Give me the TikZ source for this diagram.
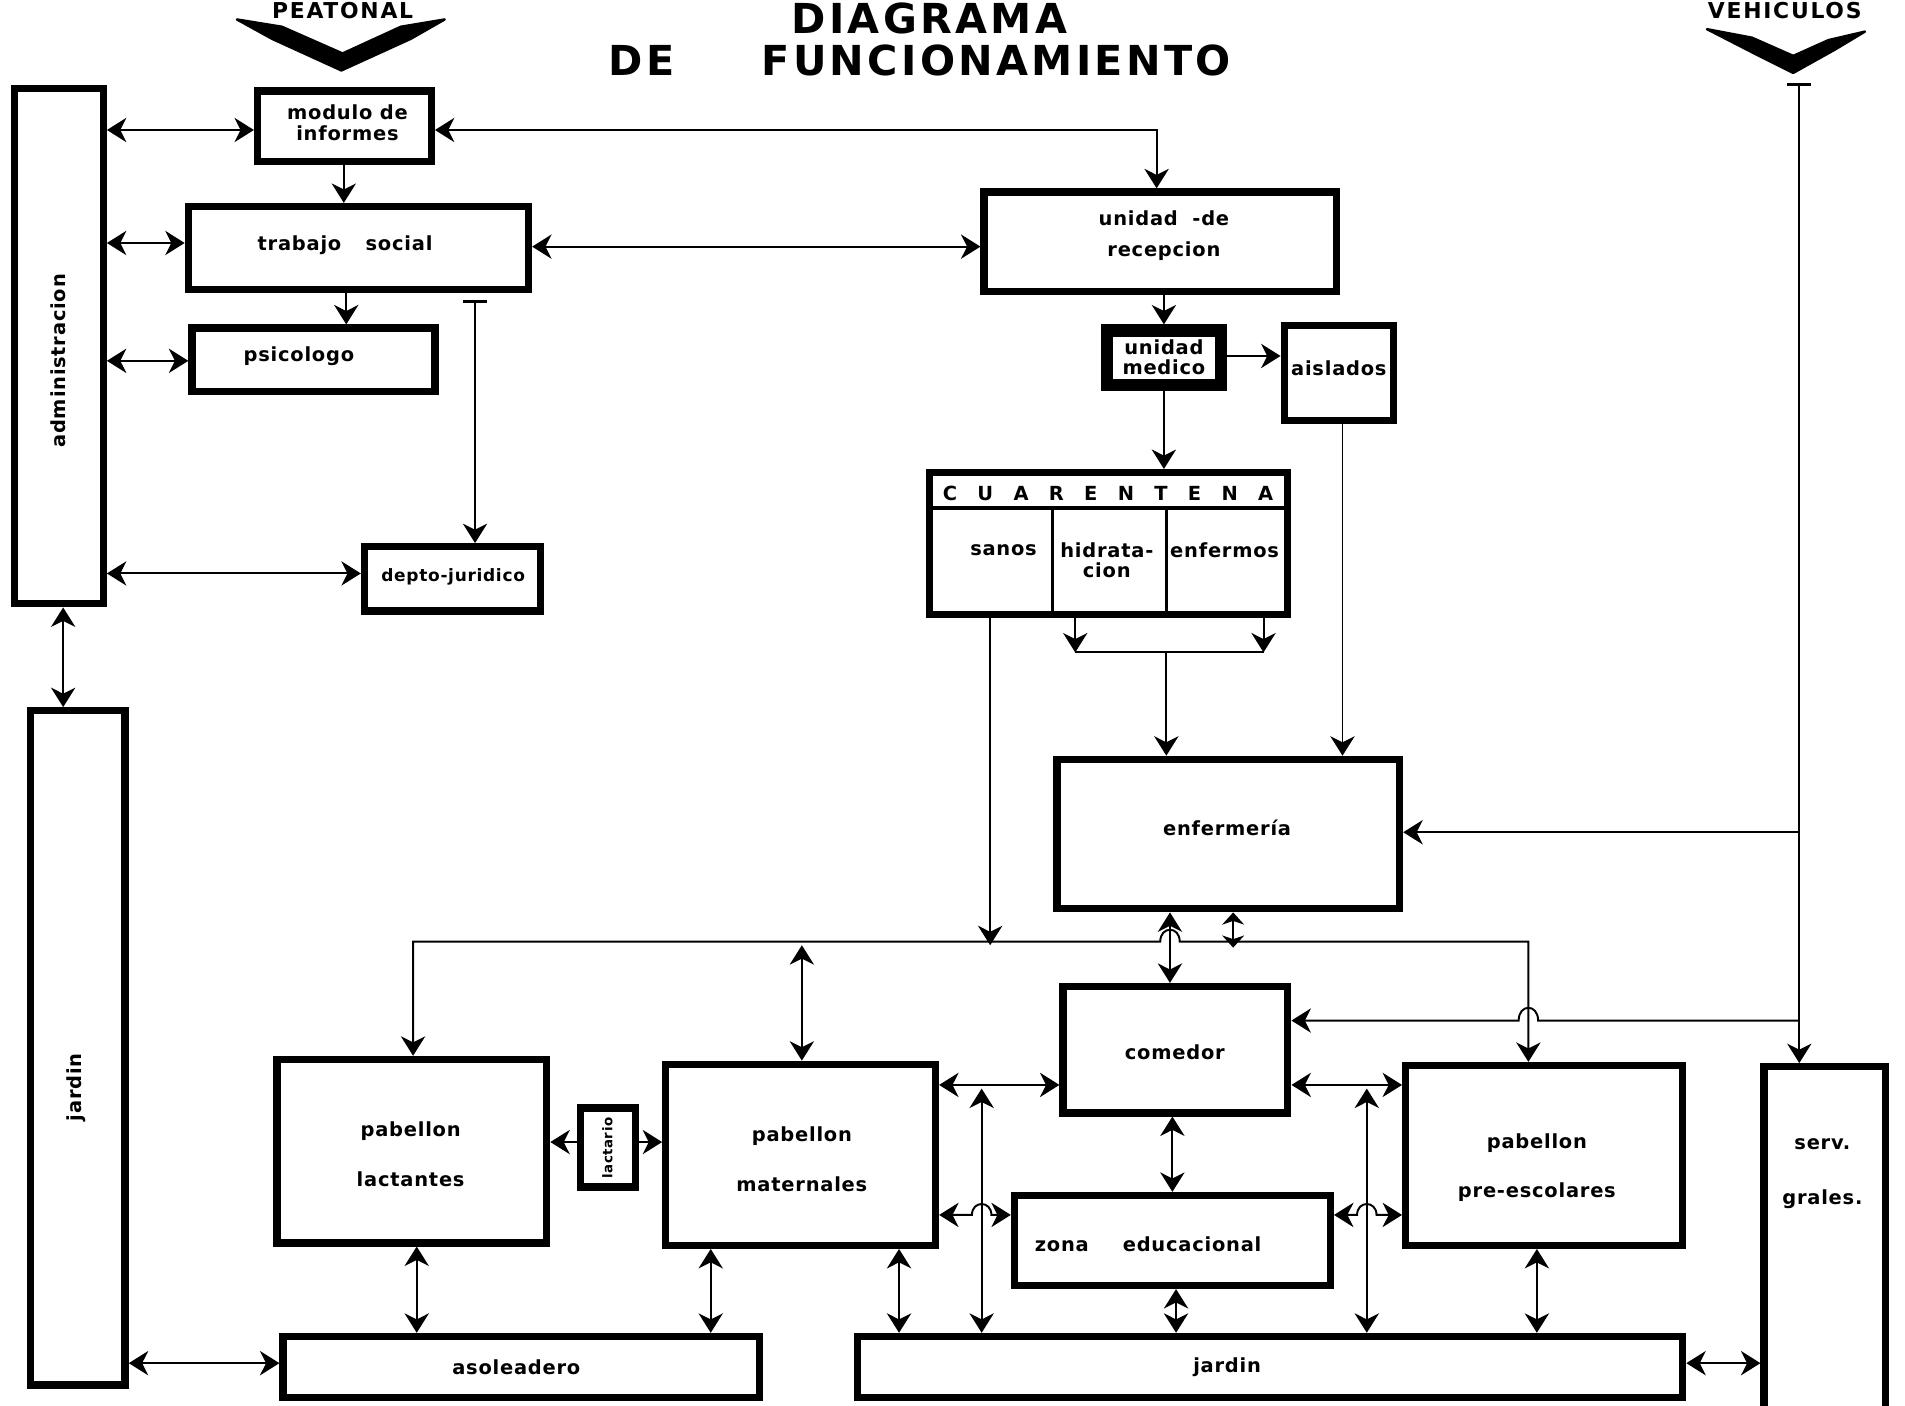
\documentclass[tikz,border=0pt]{standalone}
\usepackage{fontspec}
\setmainfont{DejaVu Sans}
\newfontfamily\lblfam[LetterSpace=4]{DejaVu Sans}
\newfontfamily\titfam[LetterSpace=8]{DejaVu Sans}
\usetikzlibrary{arrows.meta,fit,calc}
\tikzset{
  box/.style={draw, line width=3pt, inner sep=0pt},
  lbl/.style={font=\lblfam\bfseries\fontsize{8}{8.5}\selectfont, align=center, inner sep=1pt},
  ttl/.style={font=\titfam\bfseries\fontsize{17}{17}\selectfont, inner sep=0pt},
  tipS/.tip={Stealth[length=8pt,width=10pt,inset=2.5pt]},
  tipT/.tip={Stealth[length=5pt,width=9pt,inset=1.5pt]},
  tipB/.tip={Bar[width=10pt,line width=1.2pt]},
  con/.style={line width=0.8pt},
  a1/.style={con,-tipS},
  a2/.style={con,tipS-tipS},
  vee/.style={fill=black, draw=black, line width=1pt, line join=round}
}
\begin{document}
\begin{tikzpicture}[x=0.5pt,y=-0.5pt]
\useasboundingbox (0,0) rectangle (1568,1157);
\clip (0,0) rectangle (1568,1157);

% titles
\node[ttl] (tdiag) at (765,15) {DIAGRAMA};
\node[ttl] (tde) at (528,50) {DE};
\node[ttl] (tfun) at (820,50) {FUNCIONAMIENTO};
\node[ttl, font=\titfam\bfseries\fontsize{9}{9}\selectfont] (tpea) at (282,9) {PEATONAL};
\node[ttl, font=\titfam\bfseries\fontsize{9}{9}\selectfont] (tveh) at (1469,9) {VEHICULOS};

% entrance arrows (V shapes)
\fill[vee] (195,16) -- (232,22) -- (282,44) -- (330,22) -- (366,16) -- (338,32) -- (281,58) -- (224,32) -- cycle;
\fill[vee] (1405,24) -- (1442,31) -- (1476,46) -- (1505,33) -- (1535,26) -- (1510,41) -- (1476,60) -- (1442,43) -- cycle;
\coordinate (veh) at (1481,68);

% boxes
\node[box, fit={(12,73)(85,497)}] (adm) {};
\node[box, fit={(25,585)(103,1140)}] (jardL) {};
\node[box, fit={(212,75)(355,133)}] (mod) {};
\node[box, fit={(155,170)(435,238)}] (trab) {};
\node[box, fit={(158,270)(358,322)}] (psic) {};
\node[box, fit={(300,450)(445,503)}] (jur) {};
\node[box, fit={(810,158)(1100,240)}] (unid) {};
\node[box, line width=5pt, fit={(911,272)(1005,317)}] (med) {};
\node[box, fit={(1057,268)(1147,346)}] (ais) {};
\node[box, fit={(765,389)(1060,506)}] (cuar) {};
\node[box, fit={(870,625)(1152,748)}] (enf) {};
\node[box, fit={(875,812)(1060,916)}] (com) {};
\node[box, fit={(228,872)(450,1023)}] (lact) {};
\node[box, fit={(478,912)(523,977)}] (lacto) {};
\node[box, fit={(548,876)(770,1025)}] (mat) {};
\node[box, fit={(835,984)(1095,1058)}] (zona) {};
\node[box, fit={(1157,877)(1385,1025)}] (pre) {};
\node[box, fit={(1452,878)(1552,1190)}] (serv) {};
\node[box, fit={(233,1100)(625,1150)}] (asol) {};
\node[box, fit={(706,1100)(1385,1150)}] (jardB) {};

% cuarentena internals
\draw[line width=1.5pt] (767,418) -- (1058,418);
\draw[line width=1.2pt] (866,418) -- (866,506);
\draw[line width=1.2pt] (960,418) -- (960,506);
\node[lbl] (cuart) at (912,406) {\makebox[136pt]{C\hfill U\hfill A\hfill R\hfill E\hfill N\hfill T\hfill E\hfill N\hfill A}};

% labels
\node[lbl, rotate=90] (admt) at (48,297) {administracion};
\node[lbl, rotate=90] (jardLt) at (63,895) {jardin};
\node[lbl] (modt) at (286,101) {modulo de\\informes};
\node[lbl] (trabt) at (284,202) {trabajo\hspace{10pt}social};
\node[lbl] (psict) at (246,293) {psicologo};
\node[lbl, font=\lblfam\bfseries\fontsize{7}{7.5}\selectfont] (jurt) at (373,475) {depto-juridico};
\node[lbl] (unidt) at (958,194) {unidad\hspace{6pt}-de\\[4pt]recepcion};
\node[lbl] (medt) at (958,294) {unidad\\medico};
\node[lbl] (aist) at (1102,303) {aislados};
\node[lbl] (sanot) at (826,453) {sanos};
\node[lbl] (hidt) at (911,461) {hidrata-\\cion};
\node[lbl] (enft) at (1008,453) {enfermos};
\node[lbl] (enfert) at (1010,681) {enfermería};
\node[lbl] (comt) at (967,866) {comedor};
\node[lbl] (lactt) at (338,950) {pabellon\\[12pt]lactantes};
\node[lbl, rotate=90, font=\lblfam\bfseries\fontsize{5.5}{6}\selectfont] (lactot) at (500,945) {lactario};
\node[lbl] (matt) at (660,954) {pabellon\\[12pt]maternales};
\node[lbl] (zonat) at (945,1024) {zona\hspace{14pt}educacional};
\node[lbl] (pret) at (1265,961) {pabellon\\[12pt]pre-escolares};
\node[lbl] (servt) at (1500,966) {serv.\\[14pt]grales.};
\node[lbl] (asolt) at (425,1125) {asoleadero};
\node[lbl] (jardBt) at (1010,1125) {jardin};

% connectors: left column
\draw[a2] (adm.east |- 0,107) -- (mod.west |- 0,107);
\draw[a2] (mod.east |- 0,107) -| (unid.north -| 952,0);
\draw[a1] (mod.south -| 283,0) -- (trab.north -| 283,0);
\draw[a2] (adm.east |- 0,200) -- (trab.west |- 0,200);
\draw[a2] (trab.east |- 0,203) -- (unid.west |- 0,203);
\draw[a1] (trab.south -| 285,0) -- (psic.north -| 285,0);
\draw[a2] (adm.east |- 0,297) -- (psic.west |- 0,297);
\draw[con,tipB-tipS] ([yshift=-3pt]trab.south -| 391,0) -- (jur.north -| 391,0);
\draw[a2] (adm.east |- 0,472) -- (jur.west |- 0,472);
\draw[a2] (adm.south -| 52,0) -- (jardL.north -| 52,0);
\draw[a2] (jardL.east |- 0,1122) -- (asol.west |- 0,1122);

% reception chain
\draw[a1] (unid.south -| 958,0) -- (med.north -| 958,0);
\draw[a1] (med.east |- 0,293) -- (ais.west |- 0,293);
\draw[a1] (med.south -| 958,0) -- (cuar.north -| 958,0);
\draw[a1] (ais.south -| 1105,0) -- (enf.north -| 1105,0);
\coordinate (cqL) at (885,537);
\coordinate (cqR) at (1040,537);
\coordinate (cqM) at (960,537);
\draw[a1] (cuar.south -| 885,0) -- (cqL);
\draw[a1] (cuar.south -| 1040,0) -- (cqR);
\draw[con] (cqL) -- (cqR);
\draw[a1] (cqM) -- (enf.north -| 960,0);
\coordinate (busS) at (815,778);
\draw[a1] (cuar.south -| 815,0) -- (busS);

% distribution bus
\draw[a2] (lact.north -| 340,0) -- (340,775) -- (955,775)
  .. controls (955,762) and (971,762) .. (971,775) -- (1258,775) -- (pre.north -| 1258,0);
\draw[a2] (mat.north -| 660,0) -- (660,778);
\draw[a2] (enf.south -| 963,0) -- (com.north -| 963,0);
\draw[con,tipT-tipT] (enf.south -| 1015,0) -- (1015,780);

% vehicle line
\draw[con,tipB-tipS] (veh) -- (serv.north -| 1481,0);
\draw[a1] (1481,685) -- (enf.east |- 0,685);
\draw[a1] (1481,840) -- (1266,840) .. controls (1266,826) and (1250,826) .. (1250,840) -- (com.east |- 0,840);

% comedor area
\draw[a2] (mat.east |- 0,893) -- (com.west |- 0,893);
\draw[a2] (com.east |- 0,893) -- (pre.west |- 0,893);
\draw[a2] (com.south -| 965,0) -- (zona.north -| 965,0);
\draw[a2] (mat.east |- 0,1000) -- (800,1000) .. controls (800,988) and (816,988) .. (816,1000) -- (zona.west |- 0,1000);
\draw[a2] (zona.east |- 0,1000) -- (1117,1000) .. controls (1117,988) and (1133,988) .. (1133,1000) -- (pre.west |- 0,1000);
\draw[a2] (zona.south -| 968,0) -- (jardB.north -| 968,0);
\draw[a2] (808,896) -- (jardB.north -| 808,0);
\draw[a2] (1125,896) -- (jardB.north -| 1125,0);

% pavilions
\draw[a1] (lacto.west |- 0,940) -- (lact.east |- 0,940);
\draw[a1] (lacto.east |- 0,940) -- (mat.west |- 0,940);
\draw[a2] (lact.south -| 343,0) -- (asol.north -| 343,0);
\draw[a2] (mat.south -| 585,0) -- (asol.north -| 585,0);
\draw[a2] (mat.south -| 740,0) -- (jardB.north -| 740,0);
\draw[a2] (pre.south -| 1265,0) -- (jardB.north -| 1265,0);
\draw[a2] (jardB.east |- 0,1122) -- (serv.west |- 0,1122);
\end{tikzpicture}
\end{document}
